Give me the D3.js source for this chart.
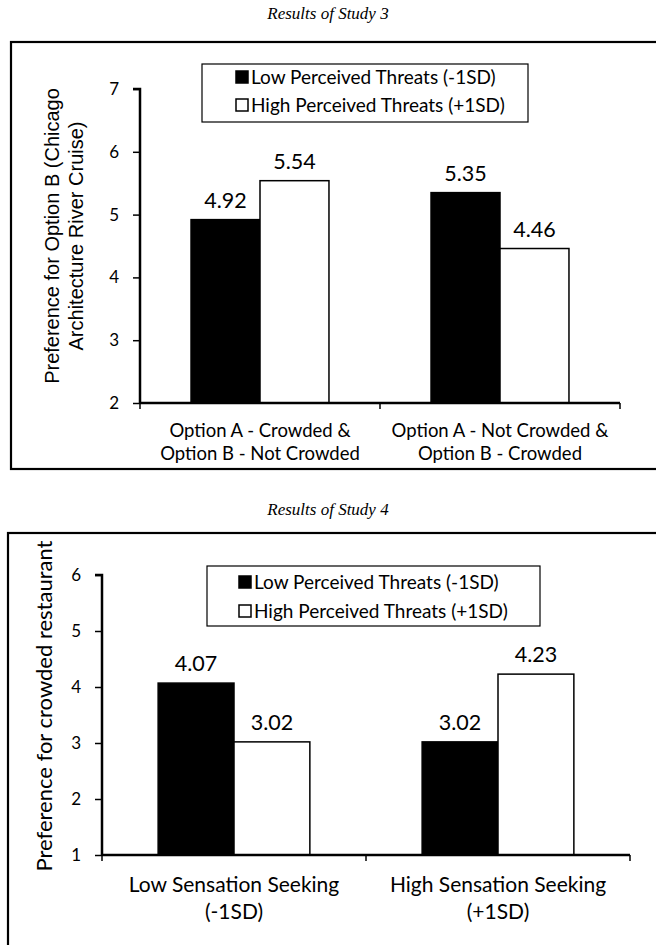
<!DOCTYPE html>
<html><head><meta charset="utf-8">
<script src="https://cdn.jsdelivr.net/npm/d3@7"></script>
<style>body{margin:0;background:#fff}svg{display:block}</style>
</head><body>
<svg id="c" width="656" height="945"></svg>
<script>
// ---- data ----
const seriesNames = ["Low Perceived Threats (-1SD)", "High Perceived Threats (+1SD)"];
const study3Title = "Results of Study 3";
const study3Categories = [["Option A - Crowded &", "Option B - Not Crowded"], ["Option A - Not Crowded &", "Option B - Crowded"]];
const study3Low = [4.92, 5.35];
const study3High = [5.54, 4.46];
const study3Ticks = [2, 3, 4, 5, 6, 7];
const study3YTitle = ["Preference for Option B (Chicago", "Architecture River Cruise)"];

const study4Title = "Results of Study 4";
const study4Categories = [["Low Sensation Seeking", "(-1SD)"], ["High Sensation Seeking", "(+1SD)"]];
const study4Low = [4.07, 3.02];
const study4High = [3.02, 4.23];
const study4Ticks = [1, 2, 3, 4, 5, 6];
const study4YTitle = ["Preference for crowded restaurant"];

const svg = d3.select("#c");
const calibri = "Lato, 'Open Sans', sans-serif";

function drawChart(o) {
  const g = svg.append("g");
  // caption
  g.append("text").attr("x", 328).attr("y", o.titleY).attr("text-anchor", "middle")
    .attr("font-family", "'Liberation Serif', serif").attr("font-style", "italic")
    .attr("font-size", 17).text(o.title);
  // frame
  g.append("rect").attr("x", o.frame[0]).attr("y", o.frame[1]).attr("width", o.frame[2]).attr("height", o.frame[3])
    .attr("fill", "none").attr("stroke", "#000").attr("stroke-width", 2.2);

  const y = d3.scaleLinear().domain([o.ticks[0], o.ticks[o.ticks.length - 1]]).range([o.y0, o.y1]);
  const x0 = d3.scaleBand().domain(d3.range(o.cats.length)).range([o.xL, o.xR]).paddingInner(0).paddingOuter(0);
  const x1 = d3.scaleBand().domain([0, 1]).range([0, x0.bandwidth()]).paddingOuter(o.outerPad).paddingInner(0);

  // bars
  const data = o.cats.map((c, i) => [o.low[i], o.high[i]]);
  data.forEach((vals, i) => {
    vals.forEach((v, s) => {
      const bx = x0(i) + x1(s);
      g.append("rect").attr("x", bx).attr("y", y(v)).attr("width", x1.bandwidth()).attr("height", y(o.ticks[0]) - y(v))
        .attr("fill", s === 0 ? "#000" : "#fff").attr("stroke", "#000").attr("stroke-width", 1.5);
      g.append("text").attr("x", bx + x1.bandwidth() / 2).attr("y", y(v) - 12).attr("text-anchor", "middle")
        .attr("font-family", calibri).attr("font-size", o.valSize).text(v.toFixed(2));
    });
  });

  // y axis
  const ya = d3.axisLeft(y).tickValues(o.ticks).tickSize(7).tickPadding(o.tickPad).tickFormat(d3.format("d"));
  const yg = g.append("g").attr("transform", `translate(${o.xL},0)`).call(ya);
  yg.select(".domain").attr("stroke-width", 2.5).attr("d", `M-7,${o.y1}H0V${o.y0}`);
  yg.selectAll(".tick line").attr("stroke-width", 1.5);
  yg.selectAll("text").attr("font-family", calibri).attr("font-size", o.tickSize).attr("fill", "#000");

  // x axis
  const boundaries = d3.range(o.cats.length + 1).map(i => o.xL + i * x0.bandwidth());
  g.append("line").attr("x1", o.xL).attr("x2", o.xR).attr("y1", o.y0).attr("y2", o.y0).attr("stroke", "#000").attr("stroke-width", 2.5);
  boundaries.forEach(bx => g.append("line").attr("x1", bx).attr("x2", bx).attr("y1", o.y0).attr("y2", o.y0 + 6).attr("stroke", "#000").attr("stroke-width", 1.5));
  o.cats.forEach((lines, i) => {
    const t = g.append("text").attr("text-anchor", "middle").attr("font-family", calibri).attr("font-size", o.catSize);
    lines.forEach((l, k) => t.append("tspan").attr("x", x0(i) + x0.bandwidth() / 2).attr("y", o.catY + k * o.catLH).text(l));
  });

  // y title
  const yt = g.append("text").attr("transform", `translate(${o.ytX},${o.ytY}) rotate(-90)`).attr("text-anchor", "middle")
    .attr("font-family", o.ytFont).attr("font-size", o.ytSize);
  o.yTitle.forEach((l, k) => yt.append("tspan").attr("x", 0).attr("y", k * o.ytLH).text(l));

  // legend
  const L = o.legend;
  g.append("rect").attr("x", L[0]).attr("y", L[1]).attr("width", L[2]).attr("height", L[3]).attr("fill", "#fff").attr("stroke", "#000").attr("stroke-width", 1.2);
  seriesNames.forEach((n, s) => {
    const cy = L[1] + o.legRow0 + s * o.legRowH;
    g.append("rect").attr("x", L[0] + o.legMX).attr("y", cy - 6).attr("width", 12).attr("height", 12)
      .attr("fill", s === 0 ? "#000" : "#fff").attr("stroke", "#000").attr("stroke-width", 1.5);
    g.append("text").attr("x", L[0] + o.legMX + 15).attr("y", cy + 7).attr("font-family", calibri).attr("font-size", o.legSize).text(n);
  });
}

drawChart({
  title: study3Title, titleY: 19, frame: [11, 42, 660, 427],
  cats: study3Categories, low: study3Low, high: study3High, ticks: study3Ticks,
  y0: 403, y1: 89, xL: 140, xR: 620, outerPad: 0.74,
  valSize: 21.5, tickSize: 17, tickPad: 14, catSize: 18.5, catY: 437, catLH: 23,
  yTitle: study3YTitle, ytX: 59, ytY: 236, ytLH: 24, ytSize: 20, ytFont: "'Liberation Sans', Arial, sans-serif",
  legend: [202, 64, 326, 58], legRow0: 13, legRowH: 28, legMX: 34, legSize: 19
});

drawChart({
  title: study4Title, titleY: 515, frame: [8, 533, 660, 420],
  cats: study4Categories, low: study4Low, high: study4High, ticks: study4Ticks,
  y0: 855, y1: 575, xL: 102, xR: 630, outerPad: 0.74,
  valSize: 21.5, tickSize: 17, tickPad: 14, catSize: 21, catY: 892, catLH: 27,
  yTitle: study4YTitle, ytX: 52, ytY: 706, ytLH: 22, ytSize: 22, ytFont: calibri,
  legend: [207, 566, 333, 60], legRow0: 16, legRowH: 29, legMX: 32, legSize: 19
});
</script>
</body></html>
